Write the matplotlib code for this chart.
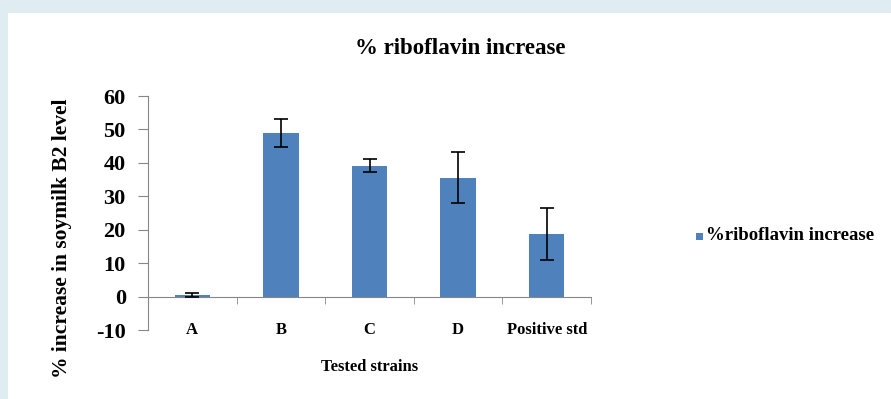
import matplotlib
matplotlib.use("Agg")
import matplotlib.pyplot as plt
from matplotlib.patches import Rectangle
import numpy as np

categories = ["A", "B", "C", "D", "Positive std"]
values = [0.5, 49.0, 39.2, 35.6, 18.7]
errors = [0.6, 4.2, 2.0, 7.5, 7.7]
yticks = [-10, 0, 10, 20, 30, 40, 50, 60]

plt.rcParams['font.family'] = ['Liberation Serif', 'DejaVu Serif']
plt.rcParams['font.weight'] = 'bold'

fig = plt.figure(figsize=(8.91, 3.99), dpi=100)
fig.patch.set_facecolor('#dfedf3')
fig.patches.append(Rectangle((8/891, 0), 1 - 8/891, 1 - 13/399, transform=fig.transFigure,
                             facecolor='white', edgecolor='none', zorder=-5))

ax = fig.add_axes([148/891, 1 - 330/399, (591 - 148)/891, (330 - 96)/399])
ax.set_zorder(2)
ax.set_facecolor('none')
x = np.arange(len(categories))
ax.bar(x, values, width=0.4, color='#4f81bd', zorder=2)
ax.errorbar(x, values, yerr=errors, fmt='none', ecolor='black', elinewidth=1.2,
            capsize=5, capthick=1.2, zorder=3)

ax.set_xlim(-0.5, len(categories) - 0.5)
ax.set_ylim(-10, 60)
ax.set_yticks(yticks)
ax.set_yticklabels([str(t) for t in yticks], fontsize=16, fontweight='bold')

for s in ['top', 'right']:
    ax.spines[s].set_visible(False)
ax.spines['left'].set_color('#868686')
ax.spines['bottom'].set_color('#868686')
ax.spines['bottom'].set_position(('data', 0))
ax.tick_params(axis='y', colors='#868686', length=7, labelcolor='black', pad=9)

ax.set_xticks(np.arange(-0.5, len(categories), 1.0), minor=True)
ax.set_xticks(x)
ax.set_xticklabels([])
ax.tick_params(axis='x', which='minor', length=5, colors='#868686')
ax.tick_params(axis='x', which='major', length=0)
for xi, c in zip(x, categories):
    ax.text(xi, -10.0, c, ha='center', va='center', fontsize=12, fontweight='bold',
            transform=ax.transData)

ax.text(0.5, -0.125, "Tested strains", transform=ax.transAxes, ha='center', va='top',
        fontsize=12, fontweight='bold')
fig.text(62/891, 1 - 238/399, "% increase in soymilk B2 level", rotation=90,
         ha='center', va='center', fontsize=15.5, fontweight='bold')
fig.text(460/891, 1 - 48/399, "% riboflavin increase", ha='center', va='center',
         fontsize=16.5, fontweight='bold')

fig.patches.append(Rectangle((696/891, 1 - 240/399), 7/891, 7/399, transform=fig.transFigure,
                             facecolor='#4f81bd', edgecolor='none', zorder=2))
fig.text(706/891, 1 - 236/399, "%riboflavin increase", ha='left', va='center',
         fontsize=13.5, fontweight='bold')

fig.savefig("out.png", dpi=100)
